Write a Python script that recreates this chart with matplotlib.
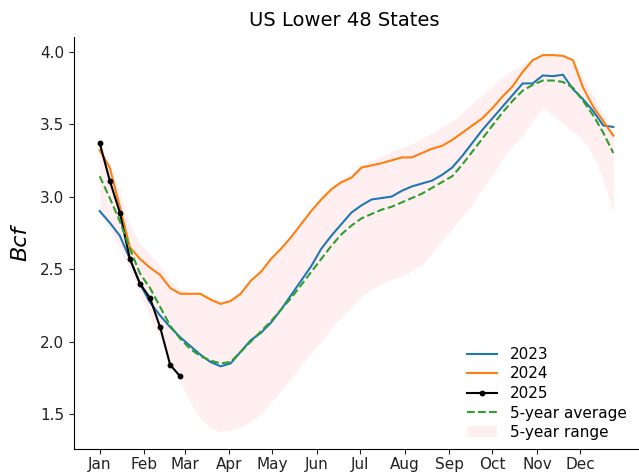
import matplotlib
matplotlib.use("Agg")
import matplotlib.pyplot as plt
import numpy as np

weeks = list(range(52))
month_labels = ["Jan", "Feb", "Mar", "Apr", "May", "Jun",
                "Jul", "Aug", "Sep", "Oct", "Nov", "Dec"]
month_start_day = [0, 31, 59, 90, 120, 151, 181, 212, 243, 273, 304, 334]

y2023 = [2.90, 2.82, 2.73, 2.57, 2.40, 2.27, 2.18, 2.10, 2.03, 1.97,
         1.91, 1.86, 1.83, 1.85, 1.93, 2.01, 2.06, 2.13, 2.22, 2.32,
         2.42, 2.52, 2.64, 2.73, 2.81, 2.89, 2.94, 2.98, 2.99, 3.00,
         3.04, 3.07, 3.09, 3.11, 3.15, 3.20, 3.28, 3.37, 3.46, 3.54,
         3.62, 3.70, 3.78, 3.78, 3.835, 3.83, 3.84, 3.74, 3.67, 3.59,
         3.49, 3.48]
y2024 = [3.32, 3.20, 2.93, 2.65, 2.57, 2.51, 2.46, 2.37, 2.33, 2.33,
         2.33, 2.29, 2.26, 2.28, 2.33, 2.42, 2.48, 2.57, 2.64, 2.72,
         2.81, 2.90, 2.98, 3.05, 3.10, 3.13, 3.20, 3.215, 3.23, 3.25,
         3.27, 3.27, 3.30, 3.33, 3.35, 3.39, 3.44, 3.49, 3.54, 3.61,
         3.69, 3.76, 3.86, 3.94, 3.975, 3.975, 3.97, 3.94, 3.75, 3.62,
         3.52, 3.42]
y2025 = [3.37, 3.11, 2.89, 2.57, 2.40, 2.30, 2.10, 1.84, 1.76]
avg5 = [3.14, 2.99, 2.83, 2.64, 2.47, 2.37, 2.24, 2.11, 2.02, 1.95,
        1.90, 1.87, 1.85, 1.86, 1.93, 2.00, 2.07, 2.14, 2.22, 2.30,
        2.39, 2.48, 2.57, 2.66, 2.74, 2.80, 2.85, 2.88, 2.91, 2.93,
        2.96, 2.99, 3.02, 3.06, 3.10, 3.14, 3.22, 3.31, 3.40, 3.49,
        3.58, 3.66, 3.73, 3.77, 3.80, 3.80, 3.79, 3.75, 3.66, 3.56,
        3.44, 3.30]
range_low = [2.88, 2.78, 2.64, 2.50, 2.33, 2.17, 2.02, 1.86, 1.72, 1.58,
             1.47, 1.40, 1.38, 1.39, 1.41, 1.45, 1.50, 1.58, 1.66, 1.75,
             1.84, 1.92, 2.00, 2.09, 2.17, 2.24, 2.31, 2.36, 2.40, 2.43,
             2.45, 2.49, 2.53, 2.61, 2.70, 2.78, 2.86, 2.95, 3.05, 3.15,
             3.26, 3.35, 3.42, 3.52, 3.61, 3.57, 3.50, 3.45, 3.39, 3.28,
             3.12, 2.89]
range_high = [3.37, 3.22, 3.02, 2.80, 2.68, 2.60, 2.52, 2.42, 2.36, 2.34,
              2.34, 2.31, 2.28, 2.30, 2.35, 2.43, 2.50, 2.58, 2.66, 2.74,
              2.83, 2.92, 3.00, 3.07, 3.12, 3.16, 3.22, 3.25, 3.28, 3.31,
              3.34, 3.36, 3.40, 3.44, 3.48, 3.52, 3.58, 3.64, 3.70, 3.76,
              3.82, 3.87, 3.91, 3.955, 3.98, 3.985, 3.98, 3.95, 3.82, 3.70,
              3.57, 3.43]

W, H = 639, 473
fig = plt.figure(figsize=(W / 100, H / 100), dpi=100)
ax = fig.add_axes([74 / W, 1 - 449 / H, (W - 74) / W, (449 - 37) / H])

ax.fill_between(weeks, range_low, range_high, color="pink", alpha=0.25,
                linewidth=0, label="5-year range")
ax.plot(weeks, y2023, color="#1f77b4", lw=1.5, label="2023")
ax.plot(weeks, y2024, color="#ff7f0e", lw=1.5, label="2024")
ax.plot(weeks[:len(y2025)], y2025, color="black", lw=1.5, marker="o",
        markersize=3.2, label="2025")
ax.plot(weeks, avg5, color="#2ca02c", lw=1.5, ls="--", label="5-year average")

ax.set_xlim(-2.55, 53.55)
ax.set_ylim(1.26, 4.10)
ax.set_xticks([d / 7 for d in month_start_day])
ax.set_xticklabels(month_labels)
ax.set_yticks([1.5, 2.0, 2.5, 3.0, 3.5, 4.0])
ax.tick_params(labelsize=11, colors="#222222")
ax.tick_params(axis="x", pad=2.5)
ax.spines["top"].set_visible(False)
ax.spines["right"].set_visible(False)

ax.set_ylabel("Bcf", fontsize=16, style="italic")
ax.yaxis.set_label_coords(-(74 - 30) / (W - 74), 0.5)
ax.set_title("US Lower 48 States", fontsize=14, x=(344 - 74) / (W - 74), pad=8)

handles, labels = ax.get_legend_handles_labels()
order = ["2023", "2024", "2025", "5-year average", "5-year range"]
hmap = dict(zip(labels, handles))
ax.legend([hmap[k] for k in order], order, loc="lower right",
          bbox_to_anchor=(1.002, -0.012), frameon=False, fontsize=11,
          labelspacing=0.3, handlelength=2.0)

fig.savefig("out.png", dpi=100)
